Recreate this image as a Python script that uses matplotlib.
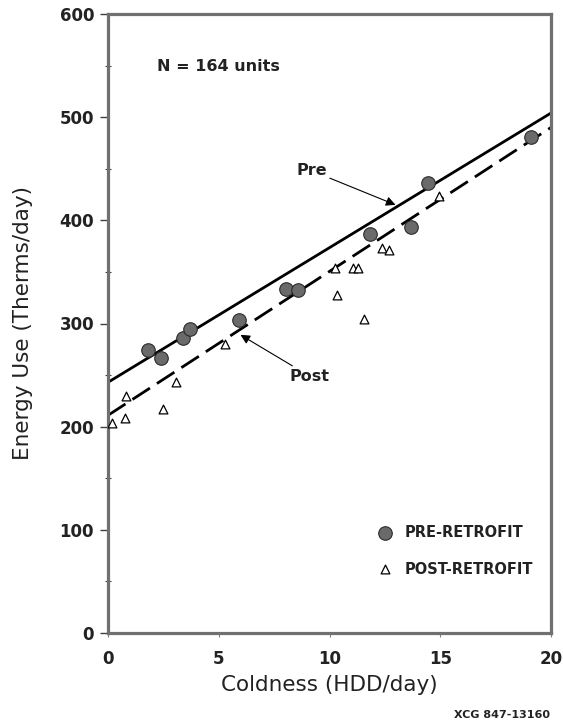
import matplotlib
matplotlib.use("Agg")
import matplotlib.pyplot as plt
from matplotlib.ticker import MultipleLocator

# ---- data ----
pre_x = [1.79, 2.39, 3.38, 3.69, 5.92, 8.05, 8.59, 11.85, 13.70, 14.44, 19.09]
pre_y = [274, 267, 286, 295, 303, 333, 332, 387, 394, 436, 481]

post_x = [0.16, 0.78, 0.81, 2.47, 3.09, 5.30, 10.26, 10.36, 11.06, 11.30, 11.54, 12.35, 12.70, 14.93]
post_y = [204, 208, 230, 217, 243, 280, 354, 328, 354, 354, 304, 373, 371, 424]

fit_x = [0, 20]
pre_fit = [243, 504]
post_fit = [211, 490]

x_ticks = [0, 5, 10, 15, 20]
y_ticks = [0, 100, 200, 300, 400, 500, 600]

plt.rcParams['font.family'] = ['DejaVu Sans']

fig = plt.figure(figsize=(5.63, 7.26), dpi=100)
ax = fig.add_axes([108/563, 1 - 633/726, 443/563, 619/726])

frame_col = '#707070'
for s in ax.spines.values():
    s.set_linewidth(2.3)
    s.set_color(frame_col)

ax.plot(fit_x, pre_fit, color='black', lw=2.0, solid_capstyle='butt', zorder=2)
ax.plot(fit_x, post_fit, color='black', lw=2.0, dashes=(7.5, 3), zorder=2)

ax.scatter(pre_x, pre_y, s=95, marker='o', facecolor='#6a6a6a', edgecolor='#2a2a2a',
           linewidth=0.8, zorder=3)
ax.scatter(post_x, post_y, s=40, marker='^', facecolor='white', edgecolor='black',
           linewidth=0.9, zorder=3)

ax.set_xlim(0, 20)
ax.set_ylim(0, 600)
ax.set_xticks(x_ticks)
ax.set_yticks(y_ticks)
ax.yaxis.set_minor_locator(MultipleLocator(50))

ax.tick_params(axis='y', which='major', direction='out', length=6, width=1.0,
               color='#404040', labelsize=12, pad=4)
ax.tick_params(axis='y', which='minor', direction='inout', length=4, width=0.8,
               color='#404040')
ax.tick_params(axis='x', which='major', direction='out', length=3, width=0.8,
               color='#808080', labelsize=12, pad=9)
for lab in ax.get_xticklabels() + ax.get_yticklabels():
    lab.set_fontweight('semibold')
    lab.set_color('#222222')

ax.set_xlabel('Coldness (HDD/day)', fontsize=15.5, color='#222222', labelpad=5)
ax.set_ylabel('Energy Use (Therms/day)', fontsize=15.5, color='#222222', labelpad=19)

ax.text(2.2, 549, 'N = 164 units', fontsize=11.5, fontweight='semibold',
        ha='left', va='center', color='#222222')

arrow = dict(arrowstyle='-|>', lw=0.8, color='black', mutation_scale=14,
             shrinkA=0, shrinkB=0)
ax.annotate('Pre', xy=(12.98, 415), xytext=(9.2, 448), fontsize=11.5,
            fontweight='semibold', ha='center', va='center', color='#222222',
            arrowprops=arrow)
ax.annotate('Post', xy=(5.98, 289), xytext=(9.1, 249), fontsize=11.5,
            fontweight='semibold', ha='center', va='center', color='#222222',
            arrowprops=arrow)

# legend (drawn manually to match the placement)
ax.scatter([12.5], [97], s=95, marker='o', facecolor='#6a6a6a', edgecolor='#2a2a2a',
           linewidth=0.8, zorder=3, clip_on=False)
ax.scatter([12.5], [62], s=40, marker='^', facecolor='white', edgecolor='black',
           linewidth=0.9, zorder=3, clip_on=False)
ax.text(13.4, 97, 'PRE-RETROFIT', fontsize=10.5, fontweight='semibold', va='center',
        ha='left', color='#222222')
ax.text(13.4, 62, 'POST-RETROFIT', fontsize=10.5, fontweight='semibold', va='center',
        ha='left', color='#222222')

fig.text(550/563, 1 - 715/726, 'XCG 847-13160', fontsize=8, fontweight='bold',
         ha='right', va='center', color='#222222')

fig.savefig('out.png', dpi=100)
